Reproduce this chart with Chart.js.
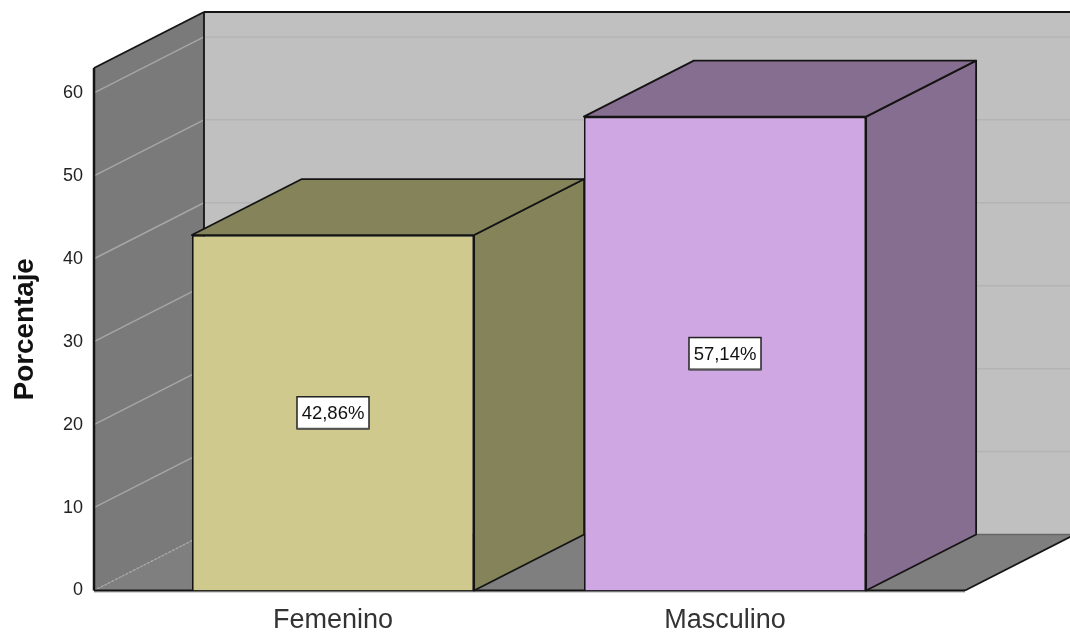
<!DOCTYPE html>
<html>
<head>
<meta charset="utf-8">
<title>Porcentaje</title>
<script src="https://cdn.jsdelivr.net/npm/chart.js@4"></script>
<style>
html, body { margin: 0; background: #fff; overflow: hidden; }
#wrap { width: 1070px; height: 633px; }
</style>
</head>
<body>
<div id="wrap"><canvas id="myChart"></canvas></div>
<script>
const categories = ['Femenino', 'Masculino'];
const percentages = [42.86, 57.14];
const axisMax = 63;
const axisStep = 10;
const frontColors = ['#CFC98D', '#CFA8E3'];
const sideColors = ['#85835A', '#866E91'];
const topColors = ['#85835A', '#866E91'];

// how far the back of the 3d box sits from the front
const depthX = 110;
const depthY = 56;
// the floor and left wall stick out past the category band
const wallOut = 43;
const edgeColor = '#141414';
const fontName = '"Liberation Sans", Arial, sans-serif';

function poly(ctx, pts, fill, stroke, lw) {
    ctx.beginPath();
    pts.forEach((p, i) => i ? ctx.lineTo(p[0], p[1]) : ctx.moveTo(p[0], p[1]));
    ctx.closePath();
    ctx.lineJoin = 'round';
    if (fill) { ctx.fillStyle = fill; ctx.fill(); }
    if (stroke) { ctx.strokeStyle = stroke; ctx.lineWidth = lw || 1.8; ctx.stroke(); }
}

function line(ctx, x1, y1, x2, y2, color, lw, dash) {
    ctx.beginPath();
    ctx.setLineDash(dash || []);
    ctx.moveTo(x1, y1);
    ctx.lineTo(x2, y2);
    ctx.strokeStyle = color;
    ctx.lineWidth = lw;
    ctx.stroke();
    ctx.setLineDash([]);
}

// walls, floor and gridlines, plus the side and top faces of the bars
const boxPlugin = {
    id: 'box3d',
    beforeDatasetsDraw(chart) {
        const ctx = chart.ctx;
        const area = chart.chartArea;
        const yScale = chart.scales.y;
        const left = area.left - wallOut;
        const right = area.right + wallOut + 1;
        const top = area.top;
        const bottom = area.bottom;

        ctx.save();
        // back wall
        poly(ctx, [[left + depthX, top - depthY], [right + depthX, top - depthY], [right + depthX, bottom - depthY], [left + depthX, bottom - depthY]], '#C0C0C0');
        // left wall
        poly(ctx, [[left, top], [left + depthX, top - depthY], [left + depthX, bottom - depthY], [left, bottom]], '#7A7A7A');
        // floor
        poly(ctx, [[left, bottom], [left + depthX, bottom - depthY], [right + depthX, bottom - depthY], [right, bottom]], '#7F7F7F');

        yScale.ticks.forEach(t => {
            const y = yScale.getPixelForValue(t.value);
            if (t.value === 0) {
                line(ctx, left, y, left + depthX, y - depthY, '#A8A8A8', 1.5, [2, 2]);
                return;
            }
            line(ctx, left, y, left + depthX, y - depthY, '#A6A6A6', 1.5);
            line(ctx, left + depthX, y - depthY, right + depthX, y - depthY, '#B4B4B4', 1.5);
        });

        line(ctx, left, top, left, bottom, edgeColor, 2.5);
        line(ctx, left, top, left + depthX, top - depthY, edgeColor, 1.8);
        line(ctx, left + depthX, top - depthY, left + depthX, bottom - depthY, edgeColor, 1.8);
        line(ctx, left + depthX, top - depthY, right + depthX, top - depthY, edgeColor, 1.8);
        line(ctx, left + depthX, bottom - depthY, right + depthX, bottom - depthY, '#666', 1.5);
        line(ctx, right, bottom, right + depthX, bottom - depthY, edgeColor, 1.8);
        line(ctx, left, bottom + 1.5, right, bottom + 1.5, '#AAA', 1);
        line(ctx, left, bottom, right, bottom, edgeColor, 1.8);

        chart.getDatasetMeta(0).data.forEach((bar, i) => {
            const x1 = bar.x - bar.width / 2;
            const x2 = bar.x + bar.width / 2;
            const yTop = bar.y;
            const yBase = bar.base;
            poly(ctx, [[x2, yTop], [x2 + depthX, yTop - depthY], [x2 + depthX, yBase - depthY], [x2, yBase]], sideColors[i], edgeColor);
            poly(ctx, [[x1, yTop], [x1 + depthX, yTop - depthY], [x2 + depthX, yTop - depthY], [x2, yTop]], topColors[i], edgeColor);
        });
        ctx.restore();
    },
    afterDatasetsDraw(chart) {
        const ctx = chart.ctx;
        ctx.save();
        chart.getDatasetMeta(0).data.forEach((bar, i) => {
            const txt = percentages[i].toFixed(2).replace('.', ',') + '%';
            const cx = bar.x;
            const cy = (bar.y + bar.base) / 2;
            ctx.fillStyle = '#fff';
            ctx.strokeStyle = '#222';
            ctx.lineWidth = 1.5;
            ctx.fillRect(cx - 36, cy - 16, 72, 32);
            ctx.strokeRect(cx - 36, cy - 16, 72, 32);
            line(ctx, cx - 36, cy + 16, cx + 36, cy + 16, '#555', 2);
            ctx.fillStyle = '#111';
            ctx.font = '18.5px ' + fontName;
            ctx.textAlign = 'center';
            ctx.textBaseline = 'middle';
            ctx.fillText(txt, cx, cy + 1);
        });
        ctx.restore();
    }
};

new Chart('myChart', {
    type: 'bar',
    data: {
        labels: categories,
        datasets: [{
            data: percentages,
            backgroundColor: frontColors,
            borderColor: edgeColor,
            borderWidth: 1.8,
            barPercentage: 0.72,
            categoryPercentage: 1,
        }],
    },
    options: {
        responsive: true,
        maintainAspectRatio: false,
        animation: false,
        layout: { padding: { top: 68, right: 149, bottom: 0, left: 0 } },
        plugins: {
            legend: { display: false },
            tooltip: { enabled: false },
        },
        scales: {
            x: {
                grid: { display: false },
                border: { display: false },
                afterFit(scale) { scale.height = 42.5; },
                ticks: {
                    padding: 6,
                    color: '#333',
                    maxRotation: 0,
                    autoSkip: false,
                    font: { family: fontName, size: 27 },
                },
            },
            y: {
                min: 0,
                max: axisMax,
                // tick padding also pads the plot bottom, so the label gap goes in tickLength
                grid: { display: false, drawTicks: true, tickLength: 48 },
                border: { display: false },
                afterFit(scale) { scale.width = 137; },
                title: {
                    display: true,
                    text: 'Porcentaje',
                    color: '#111',
                    padding: { top: 9, bottom: 0 },
                    font: { family: fontName, size: 27.8, weight: 'bold' },
                },
                ticks: {
                    stepSize: axisStep,
                    includeBounds: false,
                    padding: 6,
                    color: '#222',
                    font: { family: fontName, size: 18 },
                },
            },
        },
    },
    plugins: [boxPlugin],
});
</script>
</body>
</html>
